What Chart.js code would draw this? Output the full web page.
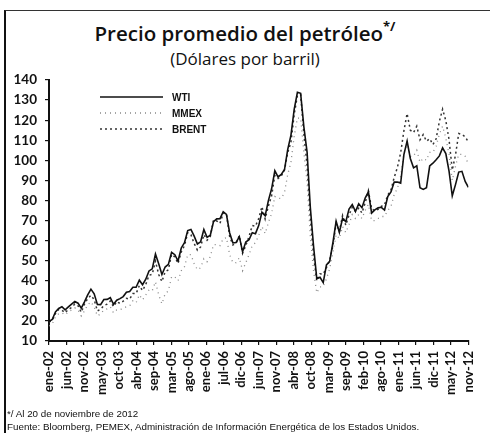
<!DOCTYPE html>
<html>
<head>
<meta charset="utf-8">
<script src="https://cdn.jsdelivr.net/npm/chart.js@4.4.1/dist/chart.umd.min.js"></script>
<style>
  html, body { margin: 0; padding: 0; background: #fff; }
  #wrap { position: relative; width: 490px; height: 433px; overflow: hidden; background: #fff; }
  #frame { position: absolute; left: 4px; top: 10px; width: 490px; height: 430px; border-left: 2px solid #111; border-top: 1.5px solid #333; }
  #title { position: absolute; left: 0; width: 490px; top: 19px; text-align: center; font-family: "Open Sans", Lato, sans-serif; font-size: 20.5px; color: #111; font-weight: 600; }
  #title sup { font-size: 13px; font-weight: 700; position: relative; top: -2px; }
  #subtitle { position: absolute; left: 0; width: 490px; top: 47px; text-align: center; font-family: "Open Sans", Lato, sans-serif; font-size: 17px; color: #111; }
  .note { position: absolute; left: 7px; font-family: "Liberation Sans", Arial, sans-serif; font-size: 9.8px; color: #111; white-space: nowrap; }
  canvas { position: absolute; left: 0; top: 0; }
</style>
</head>
<body>
<div id="wrap">
  <div id="frame"></div>
  <div id="title">Precio promedio del petróleo<sup>*/</sup></div>
  <div id="subtitle">(Dólares por barril)</div>
  <canvas id="c" width="490" height="433"></canvas>
  <div class="note" style="top:408px;">*/ Al 20 de noviembre de 2012</div>
  <div class="note" style="top:421px;">Fuente: Bloomberg, PEMEX, Administración de Información Energética de los Estados Unidos.</div>
</div>
<script>
// Tick labels of the time axis (evenly spaced from ene-02 to nov-12)
const tickLabels = ["ene-02","jun-02","nov-02","may-03","oct-03","abr-04","sep-04","mar-05","ago-05","ene-06","jul-06","dic-06","jun-07","nov-07","abr-08","oct-08","mar-09","sep-09","feb-10","ago-10","ene-11","jun-11","dic-11","may-12","nov-12"];

// Monthly averages, January 2002 .. November 2012 (131 months)
const wti = [
  19.71,20.72,24.53,26.18,27.04,25.52,26.97,28.39,29.66,28.84,26.35,29.46,
  32.95,35.83,33.51,28.17,28.11,30.66,30.75,31.57,28.31,30.34,31.11,32.13,
  34.31,34.69,36.74,36.75,40.28,38.03,40.78,44.90,45.94,53.28,48.47,43.15,
  46.84,48.15,54.19,52.98,49.83,56.35,59.00,64.99,65.59,62.26,58.32,59.41,
  65.49,61.63,62.69,69.44,70.84,70.95,74.41,73.04,63.80,58.89,59.08,61.96,
  54.51,59.28,60.44,63.98,63.46,67.49,74.12,72.36,79.92,85.80,94.77,91.69,
  92.97,95.39,105.45,112.58,125.40,133.88,133.37,116.67,104.11,76.61,57.31,41.12,
  41.71,39.09,47.94,49.65,59.03,69.64,64.15,71.05,69.41,75.72,77.99,74.47,
  78.33,76.39,81.20,84.29,73.74,75.34,76.32,76.60,75.24,81.89,84.25,89.15,
  89.17,88.58,102.86,109.53,100.90,96.26,97.30,86.33,85.52,86.32,97.16,98.56,
  100.27,102.20,106.16,103.32,94.66,82.30,87.90,94.13,94.51,89.49,86.53
];
const mmex = [
  17.5,18.5,22.0,23.5,24.0,23.0,24.5,25.5,26.5,25.5,22.5,25.0,
  28.0,29.5,27.0,22.5,23.5,25.5,26.0,27.0,24.0,25.5,25.5,26.5,
  27.0,27.5,30.0,29.0,33.0,30.5,33.0,35.5,35.0,39.5,33.0,28.5,
  33.5,35.0,42.0,42.0,40.0,45.0,47.0,53.0,53.0,48.5,45.5,46.5,
  51.0,49.5,52.0,58.0,58.0,57.5,61.0,61.5,53.0,49.0,49.0,51.5,
  45.0,49.0,53.0,57.5,59.0,62.5,67.0,63.5,69.0,73.5,82.0,81.0,
  81.0,84.0,93.0,99.0,112.0,121.0,121.0,104.0,89.0,62.0,45.0,34.0,
  37.0,37.0,41.0,46.0,54.0,63.0,61.0,67.0,64.0,68.0,73.0,71.0,
  73.0,71.0,75.0,78.0,70.0,70.0,71.0,72.0,72.0,75.0,77.0,83.0,
  86.0,92.0,103.0,109.0,102.0,102.0,105.0,99.0,101.0,100.0,104.0,104.0,
  107.0,113.0,117.0,111.0,103.0,90.0,97.0,103.0,103.0,102.0,98.0
];
const brent = [
  19.42,20.28,23.70,25.73,25.35,24.08,25.74,26.65,28.40,27.54,24.34,28.33,
  31.18,32.77,30.61,25.00,25.86,27.65,28.35,29.89,27.11,29.61,28.75,29.81,
  31.28,30.86,33.63,33.59,37.57,35.18,38.22,42.74,43.20,49.78,43.11,39.60,
  44.51,45.48,53.10,51.88,48.65,54.35,57.52,63.98,62.91,58.54,55.24,56.86,
  62.99,60.21,62.06,70.26,69.78,68.56,73.67,73.23,61.96,57.81,58.76,62.47,
  53.68,57.56,62.05,67.49,67.21,71.05,76.93,70.76,77.17,82.34,92.41,90.93,
  92.18,95.16,103.81,109.07,122.80,132.32,132.72,113.24,97.23,71.58,52.45,39.95,
  43.44,43.32,46.54,50.18,57.30,68.61,64.44,72.51,67.65,72.77,76.66,74.46,
  76.17,73.75,78.83,84.82,75.95,74.76,75.58,77.04,77.84,82.67,85.28,91.45,
  96.52,103.72,114.64,123.26,114.99,113.83,116.97,110.22,112.83,109.55,110.77,107.87,
  110.69,119.33,125.45,119.75,110.34,95.16,102.62,113.36,112.86,111.71,109.06
];
const seriesNames = ["WTI", "MMEX", "BRENT"];

const lastIndex = wti.length - 1;
const toPoints = arr => arr.map((v, i) => ({ x: i, y: v }));

const legendInside = {
  id: 'legendInside',
  afterDraw(chart) {
    const ctx = chart.ctx;
    const x0 = 100, x1 = 163, tx = 172;
    const ys = [97, 113, 129];
    chart.data.datasets.forEach((ds, i) => {
      ctx.save();
      ctx.strokeStyle = ds.borderColor;
      ctx.lineWidth = ds.borderWidth;
      ctx.setLineDash(ds.borderDash || []);
      ctx.beginPath();
      ctx.moveTo(x0, ys[i]);
      ctx.lineTo(x1, ys[i]);
      ctx.stroke();
      ctx.setLineDash([]);
      ctx.fillStyle = '#111';
      ctx.font = 'bold 10px "Liberation Sans", Arial, sans-serif';
      ctx.textBaseline = 'middle';
      ctx.textAlign = 'left';
      ctx.fillText(ds.label, tx, ys[i] + 1);
      ctx.restore();
    });
  }
};

new Chart(document.getElementById('c'), {
  type: 'line',
  data: {
    datasets: [
      { label: seriesNames[0], data: toPoints(wti), borderColor: '#111', borderWidth: 1.6, pointRadius: 0, tension: 0 },
      { label: seriesNames[1], data: toPoints(mmex), borderColor: '#888', borderWidth: 1.3, borderDash: [1, 4], pointRadius: 0, tension: 0 },
      { label: seriesNames[2], data: toPoints(brent), borderColor: '#333', borderWidth: 1.5, borderDash: [2, 3], pointRadius: 0, tension: 0 }
    ]
  },
  options: {
    responsive: false,
    animation: false,
    layout: { padding: { left: 0, top: 80, right: 16, bottom: 0 } },
    plugins: { legend: { display: false }, tooltip: { enabled: false }, title: { display: false } },
    scales: {
      x: {
        type: 'linear',
        min: 0,
        max: lastIndex,
        afterBuildTicks(scale) {
          scale.ticks = tickLabels.map((l, i) => ({ value: i * lastIndex / (tickLabels.length - 1) }));
        },
        afterFit(scale) { scale.height = 92; },
        ticks: {
          autoSkip: false,
          minRotation: 90,
          maxRotation: 90,
          padding: 6,
          color: '#111',
          font: { family: 'Lato, "Open Sans", sans-serif', size: 13, weight: 'bold' },
          callback: (v, i) => tickLabels[i]
        },
        grid: { drawOnChartArea: false, drawTicks: true, tickLength: 4, color: '#111', lineWidth: 1.2 },
        border: { display: true, color: '#111', width: 2 }
      },
      y: {
        min: 10,
        max: 140,
        afterFit(scale) { scale.width = 49; },
        ticks: {
          stepSize: 10,
          padding: 8,
          color: '#111',
          font: { family: 'Lato, "Open Sans", sans-serif', size: 13.5, weight: 'bold' }
        },
        grid: { drawOnChartArea: false, drawTicks: true, tickLength: 4, color: '#111', lineWidth: 1.2 },
        border: { display: true, color: '#111', width: 2 }
      }
    }
  },
  plugins: [legendInside]
});
</script>
</body>
</html>
